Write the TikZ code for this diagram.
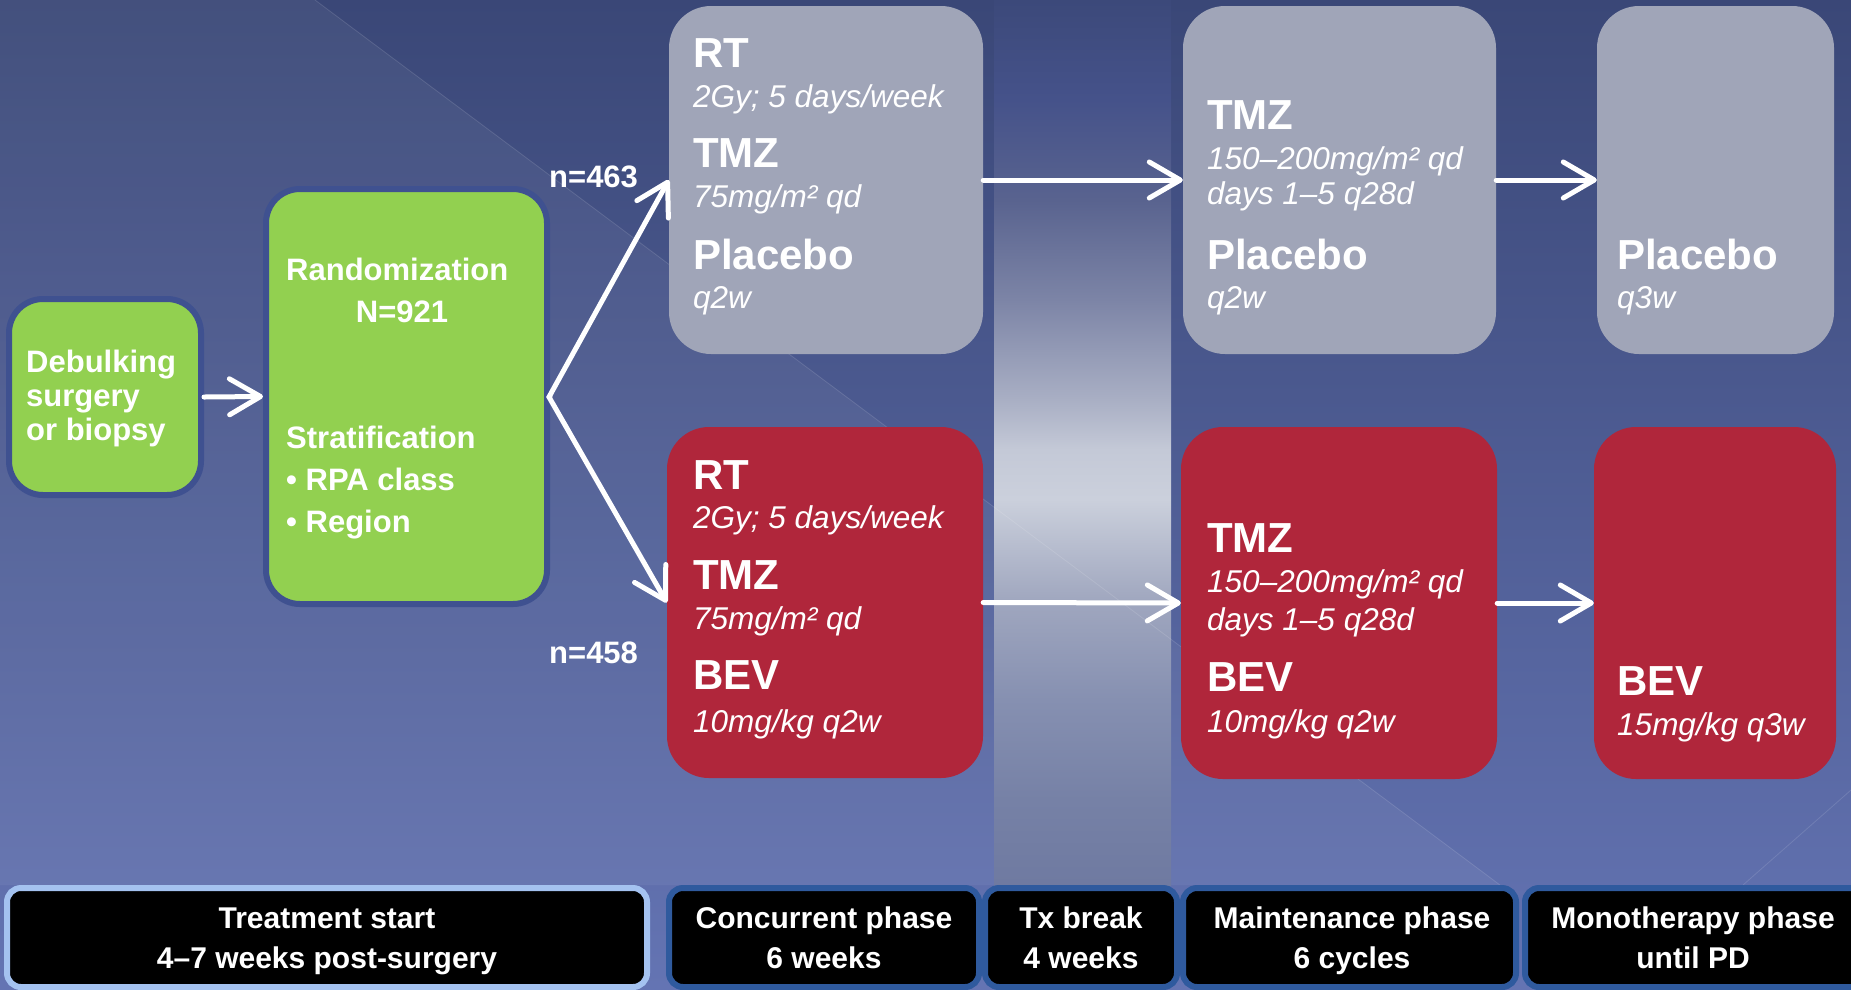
\documentclass[tikz,border=0pt]{standalone}
\usepackage{fontspec}
\setmainfont{Liberation Sans}
\usetikzlibrary{arrows.meta}
\definecolor{bgtop}{HTML}{3A4777}
\definecolor{bgbot}{HTML}{6474B3}
\definecolor{grayfill}{HTML}{A0A5B8}
\definecolor{redfill}{HTML}{B0263B}
\definecolor{greenfill}{HTML}{92D050}
\definecolor{greenedge}{HTML}{3F5190}
\definecolor{baredge}{HTML}{2F5A9E}
\definecolor{baredgelight}{HTML}{A4C2F0}
\definecolor{tA}{HTML}{6F7AA1}
\definecolor{tB}{HTML}{7681A6}
\definecolor{tC}{HTML}{8690B1}
\definecolor{tD}{HTML}{A0A7BF}
\definecolor{tE}{HTML}{CBD0DC}
\definecolor{tF}{HTML}{C4C9D7}
\definecolor{tG}{HTML}{A9AFC4}
\definecolor{tH}{HTML}{7C84A6}
\definecolor{tI}{HTML}{59638F}
\definecolor{tJ}{HTML}{45528A}
\definecolor{tK}{HTML}{3C497A}
\pgfdeclareverticalshading{txcol}{100bp}{color(0bp)=(tA); color(25bp)=(tA); color(29.8bp)=(tB); color(35.5bp)=(tC); color(41.1bp)=(tD); color(46.8bp)=(tE); color(49.6bp)=(tF); color(52.4bp)=(tG); color(58.1bp)=(tH); color(63.7bp)=(tI); color(69.4bp)=(tJ); color(75bp)=(tK); color(100bp)=(tK)}
\newcommand{\hdf}{\fontsize{42pt}{42pt}\selectfont\bfseries}
\newcommand{\itf}{\fontsize{31.5pt}{31.5pt}\selectfont\itshape}
\newcommand{\grf}{\fontsize{31pt}{31pt}\selectfont\bfseries}
\newcommand{\barf}{\fontsize{30pt}{30pt}\selectfont\bfseries}
\begin{document}
\begin{tikzpicture}[x=1pt,y=-1pt,
  gbox/.style={fill=grayfill, draw=none, rounded corners=42pt, inner sep=0pt},
  rbox/.style={fill=redfill, draw=none, rounded corners=42pt, inner sep=0pt},
  greenbox/.style={fill=greenfill, draw=greenedge, line width=6pt, rounded corners=34pt, inner sep=0pt},
  barbox/.style={fill=black, draw=baredge, line width=6pt, rounded corners=14pt, inner sep=0pt},
  hd/.style={text=white, inner sep=0pt, anchor=base west, font=\hdf},
  dose/.style={text=white, inner sep=0pt, anchor=base west, font=\itf},
  grt/.style={text=white, inner sep=0pt, anchor=base west, font=\grf},
  bart/.style={text=white, inner sep=0pt, anchor=base, font=\barf},
  arr/.style={draw=white, line width=5pt, line cap=round, -{Straight Barb[length=31pt,width=36pt,round]}}]
\useasboundingbox (0,0) rectangle (1851,989);
\clip (0,0) rectangle (1851,989);
% background
\fill[top color=bgtop, bottom color=bgbot] (0,0) rectangle (1851,989);
\fill[white, opacity=0.05] (0,0) -- (315,0) -- (1500,885) -- (0,885) -- cycle;
\shade[shading=txcol] (994,0) rectangle (1171,885);
\draw[white, opacity=0.12, line width=0.8pt] (315,0) -- (1500,885);
\draw[white, opacity=0.12, line width=0.8pt] (1743,885) -- (1851,790);

% green boxes
\node[greenbox, minimum width=192pt, minimum height=196pt] (deb) at (105,397) {};
\node[greenbox, minimum width=281pt, minimum height=415pt] (rand) at (406.5,396.5) {};
\node[grt] (deb1) at (26,372) {Debulking};
\node[grt] (deb2) at (26,406) {surgery};
\node[grt] (deb3) at (26,440) {or biopsy};
\node[grt] (rnd1) at (286,280) {Randomization};
\node[grt, anchor=base] (rnd2) at (402,322) {N=921};
\node[grt] (rnd3) at (286,448) {Stratification};
\node[grt] (rnd4) at (286,490) {\textbullet\ RPA class};
\node[grt] (rnd5) at (286,532) {\textbullet\ Region};

% treatment boxes
\node[gbox, minimum width=314pt, minimum height=348pt] (uc) at (826,180) {};
\node[rbox, minimum width=316pt, minimum height=351pt] (lc) at (825,602.5) {};
\node[gbox, minimum width=313pt, minimum height=348pt] (um) at (1339.5,180) {};
\node[rbox, minimum width=316pt, minimum height=352pt] (lm) at (1339,603) {};
\node[gbox, minimum width=237pt, minimum height=348pt] (uo) at (1715.5,180) {};
\node[rbox, minimum width=242pt, minimum height=352pt] (lo) at (1715,603) {};

% upper concurrent text
\node[hd] (uc1) at (693,67) {RT};
\node[dose] (uc2) at (693,107) {2Gy; 5 days/week};
\node[hd] (uc3) at (693,167) {TMZ};
\node[dose] (uc4) at (693,207) {75mg/m² qd};
\node[hd] (uc5) at (693,269) {Placebo};
\node[dose] (uc6) at (693,308) {q2w};
% lower concurrent text
\node[hd] (lc1) at (693,489) {RT};
\node[dose] (lc2) at (693,528) {2Gy; 5 days/week};
\node[hd] (lc3) at (693,589) {TMZ};
\node[dose] (lc4) at (693,629) {75mg/m² qd};
\node[hd] (lc5) at (693,689) {BEV};
\node[dose] (lc6) at (693,732) {10mg/kg q2w};
% upper maintenance text
\node[hd] (um1) at (1207,129) {TMZ};
\node[dose] (um2) at (1207,169) {150–200mg/m² qd};
\node[dose] (um3) at (1207,204) {days 1–5 q28d};
\node[hd] (um4) at (1207,269) {Placebo};
\node[dose] (um5) at (1207,308) {q2w};
% lower maintenance text
\node[hd] (lm1) at (1207,552) {TMZ};
\node[dose] (lm2) at (1207,592) {150–200mg/m² qd};
\node[dose] (lm3) at (1207,630) {days 1–5 q28d};
\node[hd] (lm4) at (1207,691) {BEV};
\node[dose] (lm5) at (1207,732) {10mg/kg q2w};
% monotherapy text
\node[hd] (uo1) at (1617,269) {Placebo};
\node[dose] (uo2) at (1617,308) {q3w};
\node[hd] (lo1) at (1617,695) {BEV};
\node[dose] (lo2) at (1617,735) {15mg/kg q3w};

% n labels
\node[grt] (n1) at (549,187) {n=463};
\node[grt] (n2) at (549,663) {n=458};

% arrows
\coordinate (br) at (549,397);
\draw[arr] (deb.east) -- (rand.west);
\draw[white, line width=5pt, line cap=round] (rand.east) -- (br);
\draw[arr] (br) -- (uc.west);
\draw[arr] (br) -- (lc.west);
\draw[arr] (uc.east) -- (um.west);
\draw[arr] (um.east) -- (uo.west);
\draw[arr] (lc.east) -- (lm.west);
\draw[arr] (lm.east) -- (lo.west);

% bottom bars
\node[barbox, draw=baredgelight, minimum width=640pt, minimum height=99pt] (bar1) at (327,937.5) {};
\node[barbox, minimum width=310pt, minimum height=99pt] (bar2) at (824,937.5) {};
\node[barbox, minimum width=192pt, minimum height=99pt] (bar3) at (1081,937.5) {};
\node[barbox, minimum width=333pt, minimum height=99pt] (bar4) at (1349.5,937.5) {};
\node[barbox, minimum width=345pt, minimum height=99pt] (bar5) at (1697.5,937.5) {};
\node[bart] (b1a) at (327,928) {Treatment start};
\node[bart] (b1b) at (327,968) {4–7 weeks post-surgery};
\node[bart] (b2a) at (824,928) {Concurrent phase};
\node[bart] (b2b) at (824,968) {6 weeks};
\node[bart] (b3a) at (1081,928) {Tx break};
\node[bart] (b3b) at (1081,968) {4 weeks};
\node[bart] (b4a) at (1352,928) {Maintenance phase};
\node[bart] (b4b) at (1352,968) {6 cycles};
\node[bart] (b5a) at (1693,928) {Monotherapy phase};
\node[bart] (b5b) at (1693,968) {until PD};
\end{tikzpicture}
\end{document}
